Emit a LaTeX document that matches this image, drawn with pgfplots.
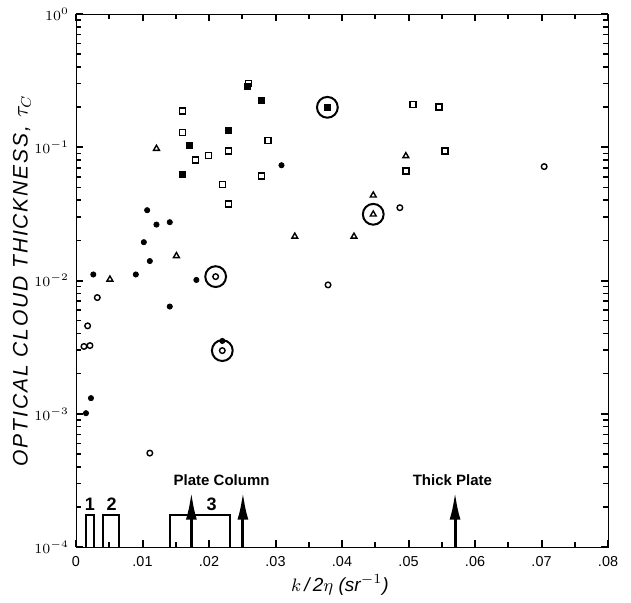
\documentclass[border=0pt]{standalone}
\usepackage{fontspec}
\setmainfont{Liberation Sans}
\newfontfamily\spacedfont[LetterSpace=9]{Liberation Sans}
\usepackage{pgfplots}
\pgfplotsset{compat=1.18}
\usetikzlibrary{arrows.meta}
\begin{document}
\begin{tikzpicture}
\begin{axis}[
  scale only axis, width=266pt, height=266.5pt,
  xmin=0, xmax=0.08, ymode=log, ymin=1e-4, ymax=1,
  scaled x ticks=false,
  xtick={0,0.01,0.02,0.03,0.04,0.05,0.06,0.07,0.08},
  xticklabels={0,.01,.02,.03,.04,.05,.06,.07,.08},
  minor xtick={0.005,0.015,0.025,0.035,0.045,0.055,0.065,0.075},
  ytick={1e-4,1e-3,1e-2,1e-1,1},
  major tick length=3.5pt, minor tick length=2.6pt,
  every major tick/.append style={line width=1pt, black},
  every minor tick/.append style={line width=0.8pt, black},
  x tick label style={font=\fontsize{7.2}{8}\selectfont, yshift=-1pt},
  y tick label style={font=\fontsize{6.8}{7}\selectfont},
  xlabel={\itshape $k$\,/\,2$\eta$ (sr$^{-1}$)},
  ylabel={\spacedfont\itshape OPTICAL CLOUD THICKNESS,\ $\tau_C$},
  xlabel style={font=\fontsize{9.5}{10}\selectfont, at={(axis description cs:0.496,-0.0713)}, anchor=center},
  ylabel style={font=\fontsize{10.5}{11}\selectfont, at={(axis description cs:-0.1015,0.5)}, anchor=center},
]
% open squares
\addplot[only marks, mark=square, mark size=1.5pt, mark options={line width=0.7pt}] coordinates {
(0.0160,0.187) (0.0160,0.129) (0.0180,0.080) (0.0199,0.0865) (0.0229,0.094)
(0.0220,0.0525) (0.0229,0.0376) (0.0259,0.302) (0.0289,0.112) (0.0279,0.061)
(0.0507,0.21) (0.0546,0.20) (0.0555,0.094) (0.0496,0.0664)};
% filled squares
\addplot[only marks, mark=square*, mark size=1.5pt, fill=black] coordinates {
(0.01705,0.104) (0.0160,0.0627) (0.0229,0.133) (0.0279,0.225) (0.0258,0.285) (0.0378,0.1995)};
% triangles
\addplot[only marks, mark=triangle, mark size=1.7pt, mark options={line width=0.7pt}] coordinates {
(0.0121,0.0977) (0.0151,0.0153) (0.0051,0.0102) (0.0329,0.0214)
(0.0496,0.086) (0.0447,0.0436) (0.0447,0.0314) (0.0418,0.0214)};
% filled circles
\addplot[only marks, mark=*, mark size=1.3pt, fill=black] coordinates {
(0.0026,0.0111) (0.0090,0.0111) (0.0107,0.0337) (0.0102,0.0194) (0.0121,0.0263)
(0.0141,0.0274) (0.0111,0.0140) (0.0181,0.0101) (0.0309,0.0733) (0.0141,0.00638)
(0.0220,0.00352) (0.00225,0.00131) (0.0015,0.00101)};
% open circles
\addplot[only marks, mark=o, mark size=1.4pt, mark options={line width=0.7pt}] coordinates {
(0.0210,0.0107) (0.0032,0.00745) (0.00175,0.00457) (0.0012,0.0032) (0.0021,0.00325)
(0.0220,0.00298) (0.0111,0.000507) (0.0487,0.0352) (0.0704,0.0716) (0.0379,0.00927)};
% big circles around selected points
\addplot[only marks, mark=o, mark size=5.2pt, mark options={line width=1pt}] coordinates {
(0.0210,0.0107) (0.0220,0.00298) (0.0378,0.1995) (0.0447,0.0314)};
% crystal habit boxes
\addplot[line width=0.8pt, mark=none] coordinates {(0.0015,1e-4) (0.0015,1.745e-4) (0.00275,1.745e-4) (0.00275,1e-4)};
\addplot[line width=0.8pt, mark=none] coordinates {(0.0041,1e-4) (0.0041,1.745e-4) (0.00645,1.745e-4) (0.00645,1e-4)};
\addplot[line width=0.8pt, mark=none] coordinates {(0.0141,1e-4) (0.0141,1.745e-4) (0.0232,1.745e-4) (0.0232,1e-4)};
% arrows
\addplot[line width=1.5pt, -{Latex[length=14pt,width=5.5pt]}] coordinates {(0.01735,1e-4) (0.01735,2.6e-4)};
\addplot[line width=1.5pt, -{Latex[length=14pt,width=5.5pt]}] coordinates {(0.0251,1e-4) (0.0251,2.6e-4)};
\addplot[line width=1.5pt, -{Latex[length=14pt,width=5.5pt]}] coordinates {(0.0570,1e-4) (0.0570,2.6e-4)};
\node[font=\bfseries\fontsize{7.5}{8}\selectfont] at (axis cs:0.0219,3.2e-4) {Plate Column};
\node[font=\bfseries\fontsize{7.5}{8}\selectfont] at (axis cs:0.0566,3.2e-4) {Thick Plate};
\node[font=\bfseries\fontsize{9}{9}\selectfont] at (axis cs:0.0021,2.1e-4) {1};
\node[font=\bfseries\fontsize{9}{9}\selectfont] at (axis cs:0.00535,2.1e-4) {2};
\node[font=\bfseries\fontsize{9}{9}\selectfont] at (axis cs:0.0204,2.1e-4) {3};
\end{axis}
\path ([shift={(-38pt,-27.5pt)}]current axis.south west) rectangle ([shift={(11.5pt,7pt)}]current axis.north east);
\end{tikzpicture}
\end{document}
